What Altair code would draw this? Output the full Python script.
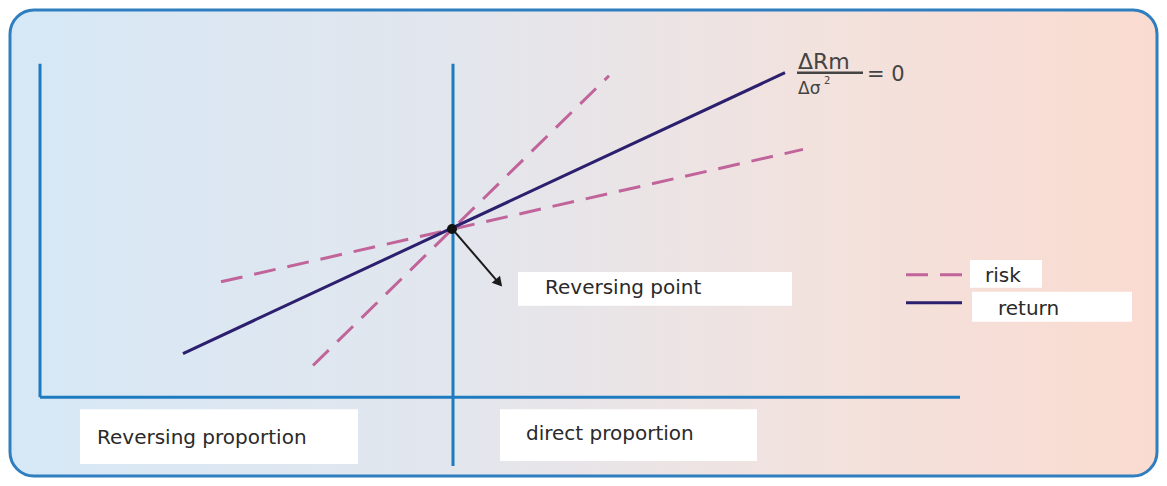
import altair as alt
import pandas as pd

# ---- diagram geometry (pixel space of the picture) ----
frame_x, frame_x2, frame_y, frame_y2 = [10], [1157], [9], [477]

axis_x1 = [40, 40, 453]
axis_y1 = [63, 398, 63]
axis_x2 = [40, 960, 453]
axis_y2 = [398, 398, 467]

return_x1, return_y1, return_x2, return_y2 = [183, 906], [354, 303], [785, 962], [72, 303]
risk_x1 = [313, 221, 906]
risk_y1 = [366, 282, 275]
risk_x2 = [609, 803, 962]
risk_y2 = [75, 149, 275]

point_x, point_y = [452], [229]
arrow_x1, arrow_y1, arrow_x2, arrow_y2 = [455], [232], [497], [281]
arrow_head_x, arrow_head_y = [499], [283]

box_x1 = [518, 80, 500, 970, 972]
box_y1 = [272, 410, 410, 260, 292]
box_x2 = [792, 358, 757, 1042, 1132]
box_y2 = [306, 465, 462, 288, 322]

label_text = ["Reversing point", "Reversing proportion", "direct proportion"]
label_x = [545, 97, 526]
label_y = [294, 445, 441]

legend_text = ["risk", "return"]
legend_x = [985, 998]
legend_y = [282, 315]

formula_bar_x1, formula_bar_x2, formula_bar_y = [797], [863], [72]

xs = alt.Scale(domain=[8, 1159], nice=False, zero=False)
ys = alt.Scale(domain=[8, 478], nice=False, zero=False, reverse=True)


def seg_df(x1, y1, x2, y2):
    return pd.DataFrame({"x1": x1, "y1": y1, "x2": x2, "y2": y2})


def seg_enc():
    return dict(
        x=alt.X("x1:Q", scale=xs, axis=None),
        y=alt.Y("y1:Q", scale=ys, axis=None),
        x2="x2:Q",
        y2="y2:Q",
    )


def xy_enc():
    return dict(
        x=alt.X("x:Q", scale=xs, axis=None),
        y=alt.Y("y:Q", scale=ys, axis=None),
    )


grad = alt.Gradient(
    gradient="linear",
    stops=[
        alt.GradientStop(offset=0, color="#d6e8f6"),
        alt.GradientStop(offset=0.4, color="#e3e6ed"),
        alt.GradientStop(offset=0.7, color="#f2e2de"),
        alt.GradientStop(offset=1, color="#fadbd0"),
    ],
    x1=0, x2=1, y1=0, y2=0,
)

frame = alt.Chart(seg_df(frame_x, frame_y, frame_x2, frame_y2)).mark_rect(
    fill=grad, stroke="#2f7ebf", strokeWidth=3, cornerRadius=24
).encode(**seg_enc())

axes = alt.Chart(seg_df(axis_x1, axis_y1, axis_x2, axis_y2)).mark_rule(
    color="#1f7bc0", strokeWidth=3
).encode(**seg_enc())

risk = alt.Chart(seg_df(risk_x1, risk_y1, risk_x2, risk_y2)).mark_rule(
    color="#c0649a", strokeWidth=3, strokeDash=[22, 12]
).encode(**seg_enc())

ret = alt.Chart(seg_df(return_x1, return_y1, return_x2, return_y2)).mark_rule(
    color="#2b1f6e", strokeWidth=3
).encode(**seg_enc())

arrow = alt.Chart(seg_df(arrow_x1, arrow_y1, arrow_x2, arrow_y2)).mark_rule(
    color="#1a1a1a", strokeWidth=2
).encode(**seg_enc())

arrow_head = alt.Chart(pd.DataFrame({"x": arrow_head_x, "y": arrow_head_y})).mark_point(
    shape="triangle-up", filled=True, color="#1a1a1a", size=120, angle=139, opacity=1
).encode(**xy_enc())

dot = alt.Chart(pd.DataFrame({"x": point_x, "y": point_y})).mark_point(
    shape="circle", filled=True, color="#111111", size=100, opacity=1
).encode(**xy_enc())

boxes = alt.Chart(seg_df(box_x1, box_y1, box_x2, box_y2)).mark_rect(
    fill="#ffffff", opacity=1
).encode(**seg_enc())

labels = alt.Chart(pd.DataFrame({"t": label_text, "x": label_x, "y": label_y})).mark_text(
    font="DejaVu Sans", fontSize=20, align="left", baseline="alphabetic",
    color="#2a2a2a"
).encode(text="t:N", **xy_enc())

legend_labels = alt.Chart(pd.DataFrame({"t": legend_text, "x": legend_x, "y": legend_y})).mark_text(
    font="DejaVu Sans", fontSize=20, align="left", baseline="alphabetic",
    color="#2a2a2a"
).encode(text="t:N", **xy_enc())

formula_bar = alt.Chart(seg_df(formula_bar_x1, formula_bar_y, formula_bar_x2, formula_bar_y)).mark_rule(
    color="#444444", strokeWidth=2.5
).encode(**seg_enc())


def ftext(t, x, y, size):
    return alt.Chart(pd.DataFrame({"t": [t], "x": [x], "y": [y]})).mark_text(
        font="DejaVu Sans", fontSize=size, align="left",
        baseline="alphabetic", color="#444444"
    ).encode(text="t:N", **xy_enc())


numer = ftext("ΔRm", 798, 68, 22)
denom = ftext("Δσ", 798, 93, 17)
sup = ftext("2", 824, 83, 10)
eq = ftext("= 0", 867, 80, 21)

chart = alt.layer(
    frame, axes, risk, ret, arrow, arrow_head, dot, boxes, labels, legend_labels,
    formula_bar, numer, denom, sup, eq
).properties(
    width=1151, height=470, padding=0,
    autosize=alt.AutoSizeParams(type="fit", contains="padding"),
    background="#ffffff",
).configure_view(stroke=None)

chart.save("out.html", embed_options={"renderer": "svg", "actions": False})
